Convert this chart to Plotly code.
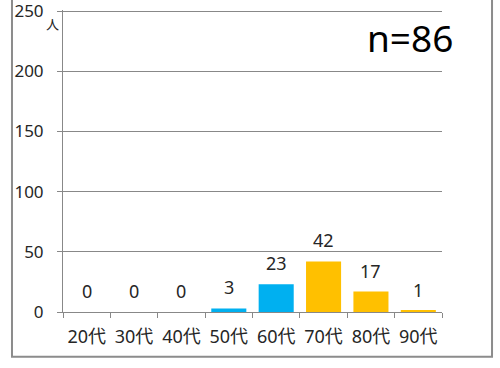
import plotly.graph_objects as go

# Age-group counts
categories = ["20代", "30代", "40代", "50代", "60代", "70代", "80代", "90代"]
counts = [0, 0, 0, 3, 23, 42, 17, 1]
bar_colors = ["#00B0F0", "#00B0F0", "#00B0F0", "#00B0F0", "#00B0F0", "#FFC000", "#FFC000", "#FFC000"]
y_ticks = [0, 50, 100, 150, 200, 250]
total_label = "n=86"
unit_label = "人"

FONT = "Noto Sans, Noto Sans CJK JP, sans-serif"
GRID = "#888888"
TEXT = "#262626"

fig = go.Figure()
fig.add_trace(go.Bar(
    x=categories, y=counts,
    marker=dict(color=bar_colors, line=dict(width=0)),
    showlegend=False, hoverinfo="x+y",
))

# value labels above each bar
for c, v in zip(categories, counts):
    fig.add_annotation(
        x=c, y=v, xref="x", yref="y", text=str(v), showarrow=False,
        yanchor="bottom", yshift=7,
        font=dict(family=FONT, size=18, color=TEXT),
    )

# sample size
fig.add_annotation(
    x=0.915, y=0.91, xref="paper", yref="paper", text=total_label,
    showarrow=False, xanchor="center", yanchor="middle",
    font=dict(family=FONT, size=37, color="#000000"),
)

# unit marker by the y axis
fig.add_annotation(
    x=-0.029, y=0.955, xref="paper", yref="paper", text=unit_label,
    showarrow=False, xanchor="center", yanchor="middle",
    font=dict(family="Noto Sans CJK JP", size=13, color=TEXT),
)

# chart frame
fig.add_shape(
    type="rect", xref="paper", yref="paper",
    x0=-0.1346, x1=1.132, y0=-0.148, y1=1.2,
    line=dict(color="#8c8c8c", width=2), layer="below",
)

fig.update_layout(
    width=500, height=368,
    margin=dict(l=63, r=58, t=10, b=56, autoexpand=False),
    paper_bgcolor="white", plot_bgcolor="white",
    bargap=0.26,
    font=dict(family=FONT, color=TEXT),
    xaxis=dict(
        showline=True, linecolor=GRID, linewidth=1,
        ticks="outside", ticklen=5, tickcolor=GRID, tickson="boundaries",
        tickfont=dict(family=FONT, size=18, color=TEXT),
        tickangle=0, ticklabelstandoff=8, automargin=False,
        showgrid=False, zeroline=False,
    ),
    yaxis=dict(
        range=[0, 251], tickvals=y_ticks,
        showline=True, linecolor=GRID, linewidth=1,
        ticks="outside", ticklen=5, tickcolor=GRID,
        showgrid=True, gridcolor=GRID, gridwidth=1,
        zeroline=False, automargin=False,
        tickfont=dict(family=FONT, size=17, color=TEXT),
        ticklabelstandoff=10, ticklabeloverflow="allow",
    ),
)

fig.write_html("out.html")
